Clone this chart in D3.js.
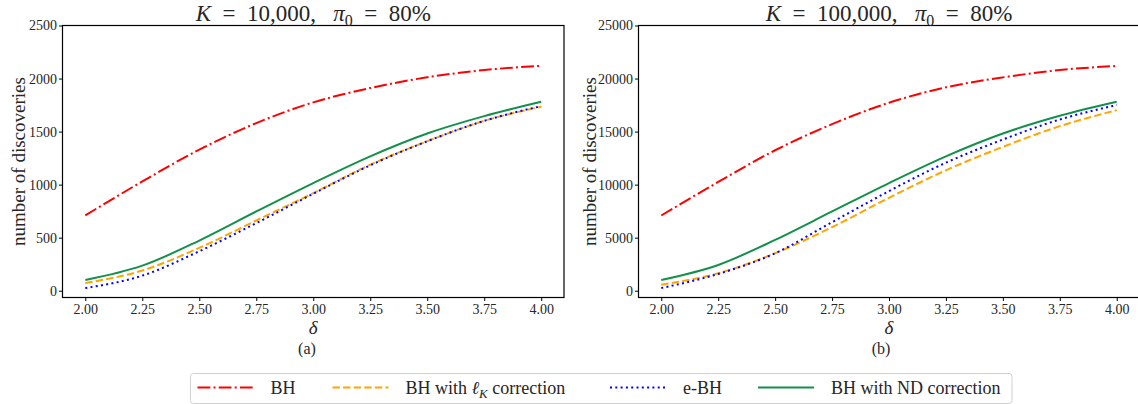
<!DOCTYPE html>
<html lang="en">

<head>
    <meta charset="UTF-8">
    <title>Number of discoveries</title>
    <style>
        body {
            margin: 0;
            overflow: hidden;
            background: #fff;
        }

        svg text {
            font-family: "Liberation Serif", "DejaVu Serif", serif;
            fill: #262626;
            white-space: pre;
        }
    </style>
</head>

<body>
    <div id="container"></div>

    <script type="text/javascript" src="https://d3js.org/d3.v7.min.js"></script>
    <script type="text/javascript">
        // delta values on the x axis
        var delta = [2.00, 2.25, 2.50, 2.75, 3.00, 3.25, 3.50, 3.75, 4.00];
        var xTicks = [2.00, 2.25, 2.50, 2.75, 3.00, 3.25, 3.50, 3.75, 4.00];

        // panel (a): K = 10,000
        var bhA = [710, 1030, 1330, 1580, 1775, 1910, 2012, 2080, 2120];
        var lkA = [73, 190, 404, 662, 920, 1188, 1409, 1601, 1734];
        var ebhA = [25, 142, 372, 637, 914, 1182, 1409, 1601, 1740];
        var ndA = [101, 236, 473, 747, 1015, 1267, 1482, 1646, 1781];
        var yTicksA = [0, 500, 1000, 1500, 2000, 2500];

        // panel (b): K = 100,000
        var bhB = [7090, 10250, 13240, 15700, 17720, 19170, 20110, 20800, 21190];
        var lkB = [570, 1640, 3530, 5990, 8760, 11350, 13560, 15510, 17020];
        var ebhB = [250, 1580, 3530, 6460, 9390, 12070, 14250, 16140, 17500];
        var ndB = [1010, 2430, 4790, 7470, 10150, 12670, 14820, 16490, 17810];
        var yTicksB = [0, 5000, 10000, 15000, 20000, 25000];

        var methods = ["BH", "BH with lK correction", "e-BH", "BH with ND correction"];
        var colors = ["#ff0000", "#ffa500", "#0000ff", "#14904a"];
        var dashes = ["12.8,3.2,2,3.2", "7.4,3.2", "2,3.3", null];

        var svg = d3.select("#container")
            .append("svg")
            .attr("width", 1138)
            .attr("height", 404);

        function drawPanel(opt) {
            var x = d3.scaleLinear().domain([1.9, 4.1]).range([opt.left, opt.right]);
            var y = d3.scaleLinear().domain([opt.yMin, opt.yMax]).range([297.5, 25.5]);
            var g = svg.append("g");

            // Bottom axis
            var xAxis = g.append("g")
                .attr("transform", "translate(0, 297.5)")
                .call(d3.axisBottom(x).tickValues(xTicks).tickFormat(d3.format(".2f")).tickSize(3.5).tickPadding(3));
            // Left axis
            var yAxis = g.append("g")
                .attr("transform", "translate(" + opt.left + ", 0)")
                .call(d3.axisLeft(y).tickValues(opt.yTicks).tickFormat(d3.format("d")).tickSize(3.5).tickPadding(2));

            [xAxis, yAxis].forEach(function (a) {
                a.select(".domain").remove();
                a.selectAll("line").attr("stroke", "#000").attr("stroke-width", 1);
                a.selectAll("text")
                    .style("font-family", "'Liberation Serif', serif")
                    .style("font-size", "14px")
                    .attr("fill", "#3a3a3a");
            });

            // Frame
            g.append("rect")
                .attr("x", opt.left)
                .attr("y", 25.5)
                .attr("width", opt.right - opt.left)
                .attr("height", 272)
                .attr("fill", "none")
                .attr("stroke", "#000")
                .attr("stroke-width", 1.2);

            var line = d3.line()
                .x(function (d, i) { return x(delta[i]); })
                .y(function (d) { return y(d); })
                .curve(d3.curveMonotoneX);

            opt.series.forEach(function (s, i) {
                g.append("path")
                    .attr("d", line(s))
                    .attr("fill", "none")
                    .attr("stroke", colors[i])
                    .attr("stroke-width", 2)
                    .attr("stroke-dasharray", dashes[i]);
            });

            // Title
            var cx = (opt.left + opt.right) / 2;
            var title = g.append("text")
                .attr("x", cx)
                .attr("y", 20.5)
                .attr("text-anchor", "middle")
                .style("font-family", "'Liberation Serif', serif")
                .style("font-size", "23px");
            title.append("tspan").style("font-style", "italic").text("K");
            title.append("tspan").text("  =  " + opt.kLabel + ",   ");
            title.append("tspan").style("font-style", "italic").text("π");
            title.append("tspan").attr("dy", 5).style("font-size", "16px").text("0");
            title.append("tspan").attr("dy", -5).text("  =  80%");

            // Y label
            g.append("text")
                .attr("transform", "translate(" + (opt.left - opt.ylabelGap) + ", 161.5) rotate(-90)")
                .attr("text-anchor", "middle")
                .style("font-size", "19px")
                .text("number of discoveries");

            // X label
            g.append("text")
                .attr("x", cx)
                .attr("y", 333.5)
                .attr("text-anchor", "middle")
                .style("font-size", "19px")
                .style("font-style", "italic")
                .text("δ");

            // Sub caption
            g.append("text")
                .attr("x", opt.captionX)
                .attr("y", 354)
                .attr("text-anchor", "middle")
                .style("font-size", "16px")
                .text(opt.caption);
        }

        drawPanel({
            left: 62.5, right: 564, yMin: -64, yMax: 2500, yTicks: yTicksA, ylabelGap: 37.5,
            series: [bhA, lkA, ebhA, ndA], kLabel: "10,000", caption: "(a)", captionX: 307
        });
        drawPanel({
            left: 638.5, right: 1139.5, yMin: -640, yMax: 25000, yTicks: yTicksB, ylabelGap: 43,
            series: [bhB, lkB, ebhB, ndB], kLabel: "100,000", caption: "(b)", captionX: 881
        });

        // Legend
        var legend = svg.append("g").attr("class", "legend");
        legend.append("rect")
            .attr("x", 190.5)
            .attr("y", 373.5)
            .attr("width", 821.5)
            .attr("height", 30)
            .attr("rx", 3)
            .attr("fill", "#fff")
            .attr("stroke", "#d0d0d0")
            .attr("stroke-width", 1);

        var legendX = [197.5, 332.5, 610, 758];
        legendX.forEach(function (lx, i) {
            legend.append("line")
                .attr("x1", lx)
                .attr("x2", lx + 56)
                .attr("y1", 387.5)
                .attr("y2", 387.5)
                .attr("stroke", colors[i])
                .attr("stroke-width", 2)
                .attr("stroke-dasharray", dashes[i]);
            var t = legend.append("text")
                .attr("x", lx + 73)
                .attr("y", 393.5)
                .style("font-size", "18px");
            if (i === 1) {
                t.append("tspan").text("BH with ");
                t.append("tspan").style("font-style", "italic").text("ℓ");
                t.append("tspan").attr("dy", 4).style("font-size", "13px").style("font-style", "italic").text("K");
                t.append("tspan").attr("dy", -4).text(" correction");
            } else {
                t.text(methods[i]);
            }
        });
    </script>
</body>

</html>
